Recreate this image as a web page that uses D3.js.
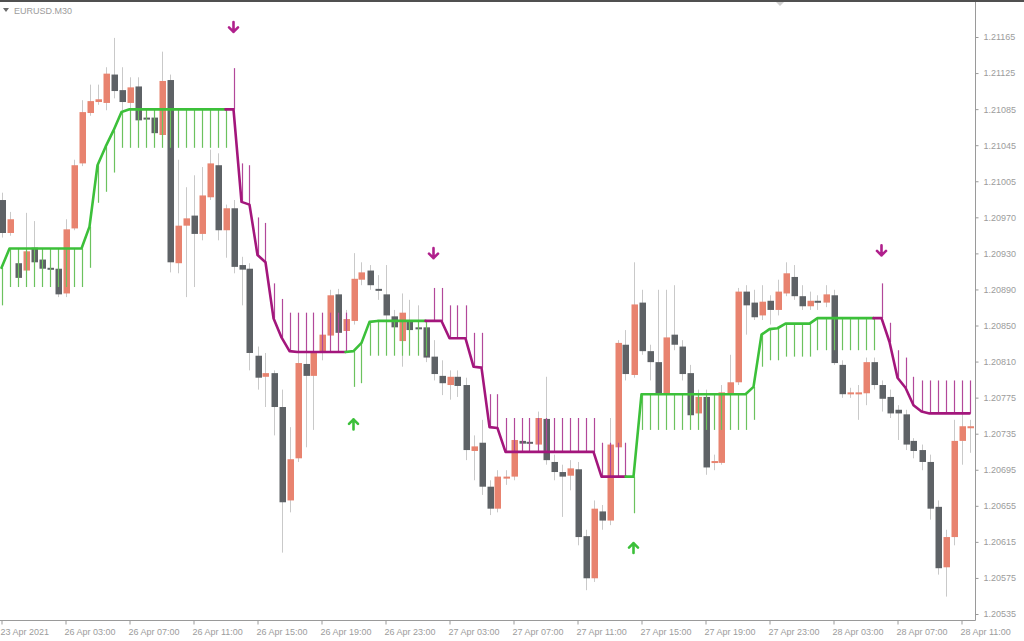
<!DOCTYPE html>
<html><head><meta charset="utf-8">
<script src="https://cdn.jsdelivr.net/npm/d3@7"></script>
<style>html,body{margin:0;padding:0;background:#fff;overflow:hidden}</style>
</head><body>
<svg id="c" width="1024" height="641"></svg>
<script>
// ---- DATA ----
const symbolTitle = "EURUSD.M30";
const open = [1.20987,1.20951,1.20918,1.20910,1.20935,1.20922,1.20913,1.20912,1.20885,1.20956,
1.21027,1.21082,1.21094,1.21093,1.21124,1.21107,1.21093,1.21111,1.21077,1.21077,
1.21058,1.21118,1.20918,1.20959,1.20970,1.20950,1.20990,1.21025,1.20954,1.20978,
1.20916,1.20912,1.20817,1.20794,1.20798,1.20761,1.20659,1.20705,1.20808,1.20795,
1.20821,1.20839,1.20884,1.20844,1.20855,1.20900,1.20910,1.20890,1.20884,1.20860,
1.20833,1.20854,1.20848,1.20848,1.20816,1.20795,1.20785,1.20794,1.20785,1.20713,
1.20722,1.20674,1.20650,1.20683,1.20685,1.20724,1.20723,1.20720,1.20748,1.20701,
1.20690,1.20686,1.20693,1.20620,1.20574,1.20647,1.20637,1.20717,1.20829,1.20796,
1.20875,1.20822,1.20810,1.20776,1.20840,1.20827,1.20798,1.20754,1.20772,1.20700,
1.20700,1.20776,1.20788,1.20887,1.20875,1.20861,1.20877,1.20867,1.20885,1.20903,
1.20882,1.20871,1.20877,1.20875,1.20883,1.20807,1.20775,1.20776,1.20776,1.20810,
1.20785,1.20772,1.20758,1.20753,1.20724,1.20714,1.20701,1.20652,1.20586,1.20619,
1.20724,1.20739];
const high = [1.20995,1.20974,1.20932,1.20973,1.20964,1.20927,1.20919,1.20919,1.20966,1.21031,
1.21096,1.21113,1.21113,1.21132,1.21164,1.21132,1.21121,1.21121,1.21083,1.21083,
1.21149,1.21124,1.21031,1.21001,1.21014,1.21023,1.21042,1.21038,1.20982,1.20987,
1.20925,1.20918,1.20827,1.20820,1.20801,1.20780,1.20739,1.20823,1.20823,1.20864,
1.20856,1.20889,1.20890,1.20867,1.20929,1.20919,1.20916,1.20905,1.20916,1.20867,
1.20885,1.20878,1.20872,1.20856,1.20834,1.20812,1.20801,1.20801,1.20793,1.20730,
1.20747,1.20681,1.20692,1.20692,1.20736,1.20736,1.20730,1.20756,1.20794,1.20709,
1.20698,1.20703,1.20701,1.20627,1.20659,1.20654,1.20749,1.20834,1.20845,1.20919,
1.20889,1.20829,1.20889,1.20889,1.20894,1.20834,1.20807,1.20780,1.20780,1.20709,
1.20785,1.20818,1.20891,1.20894,1.20889,1.20894,1.20883,1.20900,1.20919,1.20916,
1.20894,1.20887,1.20883,1.20894,1.20889,1.20812,1.20782,1.20785,1.20815,1.20815,
1.20790,1.20780,1.20763,1.20758,1.20727,1.20720,1.20709,1.20659,1.20627,1.20747,
1.20758,1.20747];
const low = [1.20946,1.20948,1.20892,1.20892,1.20900,1.20905,1.20902,1.20881,1.20881,1.20954,
1.21024,1.21079,1.21091,1.21085,1.21098,1.21085,1.21087,1.21067,1.21069,1.21055,
1.21053,1.20908,1.20907,1.20881,1.20892,1.20943,1.20987,1.20943,1.20924,1.20907,
1.20872,1.20801,1.20780,1.20761,1.20730,1.20602,1.20646,1.20701,1.20717,1.20736,
1.20812,1.20834,1.20829,1.20840,1.20851,1.20894,1.20889,1.20878,1.20856,1.20829,
1.20805,1.20834,1.20829,1.20810,1.20790,1.20774,1.20769,1.20772,1.20703,1.20681,
1.20665,1.20643,1.20646,1.20676,1.20681,1.20714,1.20714,1.20714,1.20698,1.20681,
1.20641,1.20670,1.20610,1.20561,1.20570,1.20627,1.20632,1.20714,1.20790,1.20793,
1.20818,1.20790,1.20769,1.20769,1.20823,1.20790,1.20747,1.20747,1.20687,1.20692,
1.20698,1.20774,1.20785,1.20840,1.20856,1.20856,1.20851,1.20861,1.20882,1.20878,
1.20867,1.20867,1.20867,1.20870,1.20807,1.20771,1.20771,1.20747,1.20763,1.20780,
1.20756,1.20749,1.20725,1.20714,1.20705,1.20692,1.20638,1.20578,1.20554,1.20610,
1.20698,1.20711];
const close = [1.20951,1.20966,1.20902,1.20931,1.20919,1.20912,1.20911,1.20884,1.20955,1.21025,
1.21083,1.21095,1.21097,1.21125,1.21106,1.21094,1.21110,1.21074,1.21075,1.21060,
1.21117,1.20919,1.20959,1.20967,1.20950,1.20992,1.21027,1.20954,1.20978,1.20914,
1.20911,1.20820,1.20793,1.20798,1.20761,1.20657,1.20704,1.20809,1.20795,1.20821,
1.20840,1.20883,1.20842,1.20857,1.20901,1.20908,1.20894,1.20889,1.20861,1.20848,
1.20864,1.20845,1.20847,1.20815,1.20797,1.20787,1.20794,1.20784,1.20714,1.20718,
1.20674,1.20650,1.20685,1.20685,1.20725,1.20721,1.20721,1.20749,1.20703,1.20690,
1.20685,1.20694,1.20619,1.20574,1.20650,1.20637,1.20720,1.20831,1.20797,1.20873,
1.20822,1.20810,1.20776,1.20837,1.20829,1.20797,1.20752,1.20772,1.20695,1.20702,
1.20777,1.20788,1.20887,1.20872,1.20859,1.20876,1.20867,1.20887,1.20907,1.20882,
1.20871,1.20877,1.20875,1.20884,1.20809,1.20775,1.20777,1.20777,1.20810,1.20785,
1.20770,1.20754,1.20754,1.20720,1.20713,1.20701,1.20650,1.20585,1.20619,1.20724,
1.20740,1.20740];
// trend indicator: u = up (green), d = down (magenta)
const trendDir = "uuuuuuuuuuuuuuuuuuuuuuuuuuuuu" + "ddddddddddddddd" + "uuuuuuuuuu" +
  "ddddddddddddddddddddddddd" + "uuuuuuuuuuuuuuuuuuuuuuuuuuuuuuu" + "dddddddddddd";
const trendLine = [1.20913,1.20934,1.20934,1.20934,1.20934,1.20934,1.20934,1.20934,1.20934,1.20934,
1.20934,1.20958,1.21025,1.21045,1.21063,1.21083,1.21086,1.21086,1.21086,1.21086,
1.21086,1.21086,1.21086,1.21086,1.21086,1.21086,1.21086,1.21086,1.21086,1.21086,
1.20985,1.20982,1.20927,1.20919,1.20858,1.20837,1.20822,1.20821,1.20821,1.20821,
1.20821,1.20821,1.20821,1.20821,1.20822,1.20831,1.20854,1.20855,1.20855,1.20855,
1.20855,1.20855,1.20855,1.20855,1.20855,1.20855,1.20836,1.20836,1.20836,1.20805,
1.20804,1.20739,1.20738,1.20712,1.20712,1.20712,1.20712,1.20712,1.20712,1.20712,
1.20712,1.20712,1.20712,1.20712,1.20712,1.20685,1.20685,1.20685,1.20685,1.20685,
1.20775,1.20775,1.20775,1.20775,1.20775,1.20775,1.20775,1.20775,1.20775,1.20775,
1.20775,1.20775,1.20775,1.20775,1.20783,1.20840,1.20846,1.20847,1.20852,1.20852,
1.20852,1.20852,1.20858,1.20858,1.20858,1.20858,1.20858,1.20858,1.20858,1.20858,
1.20858,1.20832,1.20793,1.20782,1.20763,1.20756,1.20754,1.20754,1.20754,1.20754,
1.20754,1.20754];
const bandEnd = [1.20872,1.20892,1.20892,1.20892,1.20892,1.20892,1.20892,1.20892,1.20892,1.20892,
1.20892,1.20913,1.20984,1.20996,1.21017,1.21044,1.21044,1.21044,1.21044,1.21044,
1.21044,1.21044,1.21044,1.21044,1.21044,1.21044,1.21044,1.21044,1.21044,1.21131,
1.21027,1.21025,1.20968,1.20962,1.20896,1.20879,1.20864,1.20864,1.20864,1.20864,
1.20864,1.20864,1.20864,1.20864,1.20783,1.20787,1.20817,1.20817,1.20817,1.20817,
1.20817,1.20817,1.20817,1.20817,1.20891,1.20891,1.20872,1.20872,1.20872,1.20842,
1.20842,1.20775,1.20775,1.20749,1.20749,1.20749,1.20749,1.20749,1.20749,1.20749,
1.20749,1.20749,1.20749,1.20749,1.20749,1.20722,1.20722,1.20722,1.20722,1.20645,
1.20736,1.20736,1.20736,1.20736,1.20736,1.20736,1.20736,1.20736,1.20736,1.20736,
1.20736,1.20736,1.20736,1.20736,1.20747,1.20805,1.20812,1.20812,1.20816,1.20816,
1.20816,1.20816,1.20823,1.20823,1.20823,1.20823,1.20823,1.20823,1.20823,1.20823,
1.20896,1.20853,1.20823,1.20815,1.20794,1.20790,1.20790,1.20790,1.20790,1.20790,
1.20790,1.20790];
const sellBars = [29, 54, 110];
const sellPrices = [1.21176, 1.20929, 1.20932];
const buyBars = [44, 79];
const buyPrices = [1.20742, 1.20607];
const yTickLabels = ["1.21165","1.21125","1.21085","1.21045","1.21005","1.20970","1.20930","1.20890",
  "1.20850","1.20810","1.20775","1.20735","1.20695","1.20655","1.20615","1.20575","1.20535"];
const xTickBars = [0,8,16,24,32,40,48,56,64,72,80,88,96,104,112,120];
const xTickLabels = ["23 Apr 2021","26 Apr 03:00","26 Apr 07:00","26 Apr 11:00","26 Apr 15:00",
  "26 Apr 19:00","26 Apr 23:00","27 Apr 03:00","27 Apr 07:00","27 Apr 11:00","27 Apr 15:00",
  "27 Apr 19:00","27 Apr 23:00","28 Apr 03:00","28 Apr 07:00","28 Apr 11:00"];

// ---- STYLE / LAYOUT ----
const plotRight = 975, plotBottom = 620;
const bullCol = "#e8836f", bearCol = "#5e6266", wickCol = "#c9c9c9";
const upLine = "#3cc03a", dnLine = "#a3167c";
const upHist = "#6cc25e", dnHist = "#b2489a";
const axisTxt = "#9c9c9c";
const font = "Liberation Sans, Arial, sans-serif";

const svg = d3.select("#c");
const n = open.length;
const idx = d3.range(n);
const x = d3.scaleLinear().domain([0, n - 1]).range([1.5, 969.5]);
const yTop = +yTickLabels[0], yBot = +yTickLabels[yTickLabels.length - 1];
const y = d3.scaleLinear().domain([yBot, yTop]).range([614, 37]);
const px = i => Math.round(x(i)) + 0.5;

// frame
svg.append("rect").attr("x",0).attr("y",0).attr("width",1024).attr("height",641).attr("fill","#fff");
svg.append("rect").attr("x",0).attr("y",0).attr("width",1024).attr("height",2).attr("fill","#505050");
svg.append("path").attr("d","M776,2 L784,2 L780,6 Z").attr("fill","#cfcfcf");

svg.append("clipPath").attr("id","pc").append("rect")
  .attr("x",0).attr("y",2).attr("width",plotRight).attr("height",plotBottom-2);
const plot = svg.append("g").attr("clip-path","url(#pc)");

// candles
plot.append("g").selectAll("line").data(idx).join("line")
  .attr("x1", px).attr("x2", px)
  .attr("y1", i => y(high[i])).attr("y2", i => y(low[i]))
  .attr("stroke", wickCol).attr("stroke-width", 1);
plot.append("g").selectAll("rect").data(idx).join("rect")
  .attr("x", i => Math.round(x(i)) - 2.5)
  .attr("width", 6.5)
  .attr("y", i => y(Math.max(open[i], close[i])))
  .attr("height", i => Math.max(2, Math.abs(y(open[i]) - y(close[i]))))
  .attr("fill", i => close[i] >= open[i] ? bullCol : bearCol);

// histogram (band lines)
plot.append("g").selectAll("line").data(idx).join("line")
  .attr("x1", px).attr("x2", px)
  .attr("y1", i => y(trendLine[i])).attr("y2", i => y(bandEnd[i]))
  .attr("stroke", i => trendDir[i] === "u" ? upHist : dnHist)
  .attr("stroke-width", 1.2);

// trend line: runs of same direction, each including the previous bar
const runs = [];
let start = 0;
for (let i = 1; i <= n; i++) {
  if (i === n || trendDir[i] !== trendDir[start]) {
    runs.push({dir: trendDir[start], pts: d3.range(Math.max(0, start - 1), i)});
    start = i;
  }
}
const lineGen = d3.line().x(i => x(i)).y(i => y(trendLine[i]));
plot.append("g").selectAll("path").data(runs).join("path")
  .attr("d", r => lineGen(r.pts))
  .attr("fill", "none")
  .attr("stroke", r => r.dir === "u" ? upLine : dnLine)
  .attr("stroke-width", 2.6)
  .attr("stroke-linejoin", "round").attr("stroke-linecap", "round");

// arrows
function arrow(cx, cy, down) {
  const s = down ? 1 : -1;
  return `M${cx},${cy - 5*s} L${cx},${cy + 5*s} M${cx - 4.5},${cy + 0.5*s} L${cx},${cy + 5*s} L${cx + 4.5},${cy + 0.5*s}`;
}
svg.append("g").selectAll("path").data(sellBars).join("path")
  .attr("d", (b, j) => arrow(x(b), y(sellPrices[j]), true))
  .attr("fill","none").attr("stroke", "#b0208c").attr("stroke-width", 2.6)
  .attr("stroke-linecap","round").attr("stroke-linejoin","round");
svg.append("g").selectAll("path").data(buyBars).join("path")
  .attr("d", (b, j) => arrow(x(b), y(buyPrices[j]), false))
  .attr("fill","none").attr("stroke", "#3cc03a").attr("stroke-width", 2.6)
  .attr("stroke-linecap","round").attr("stroke-linejoin","round");

// axes
svg.append("line").attr("x1",plotRight+0.5).attr("x2",plotRight+0.5).attr("y1",2).attr("y2",plotBottom+0.5)
  .attr("stroke","#9a9a9a");
svg.append("line").attr("x1",0).attr("x2",plotRight+0.5).attr("y1",plotBottom+0.5).attr("y2",plotBottom+0.5)
  .attr("stroke","#9a9a9a");

const yStep = (yTop - yBot) / (yTickLabels.length - 1);
const yTickVals = yTickLabels.map((t, i) => yTop - i * yStep);
const yAxis = d3.axisRight(y).tickValues(yTickVals).tickSize(3).tickPadding(5)
  .tickFormat((d, i) => yTickLabels[i]);
const ya = svg.append("g").attr("transform", `translate(${plotRight + 0.5},0)`).call(yAxis);
ya.select(".domain").remove();
ya.selectAll("line").attr("stroke","#9a9a9a");
ya.selectAll("text").attr("fill", axisTxt).attr("font-family", font).attr("font-size", 9);

const xAxis = d3.axisBottom(x).tickValues(xTickBars).tickSize(4).tickPadding(4)
  .tickFormat((d, i) => xTickLabels[i]);
const xa = svg.append("g").attr("transform", `translate(0,${plotBottom + 0.5})`).call(xAxis);
xa.select(".domain").remove();
xa.selectAll("line").attr("stroke","#9a9a9a");
xa.selectAll("text").attr("fill", axisTxt).attr("font-family", font).attr("font-size", 9)
  .attr("text-anchor","start").attr("dx", -1.5);

// title
svg.append("path").attr("d","M3,8 L9,8 L6,12 Z").attr("fill","#6a6a6a");
svg.append("text").attr("x",14).attr("y",14).text(symbolTitle)
  .attr("fill", axisTxt).attr("font-family", font).attr("font-size", 9);
</script>
</body></html>
